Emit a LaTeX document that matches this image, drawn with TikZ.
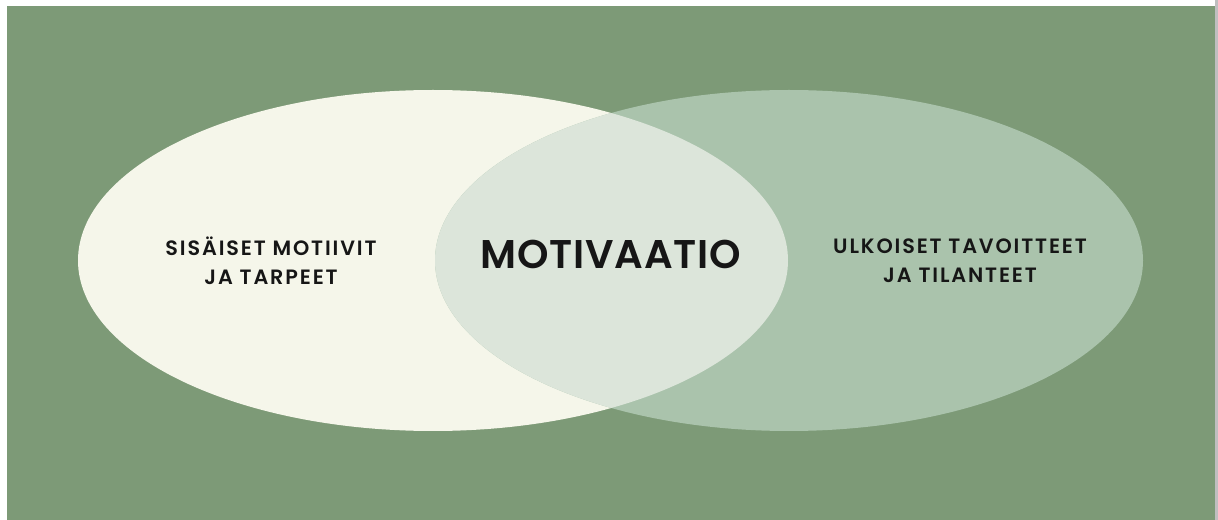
\documentclass[tikz,border=0pt]{standalone}
\usepackage{fontspec}
\setmainfont{Poppins}[BoldFont={Poppins SemiBold}]
\usepackage{tikz}

\definecolor{sage}{RGB}{125,154,119}
\definecolor{cream}{RGB}{245,246,234}
\definecolor{mist}{RGB}{170,195,172}
\definecolor{blend}{RGB}{220,229,218}
\definecolor{ink}{RGB}{22,22,22}

\begin{document}
\begin{tikzpicture}[
    x=0.02cm, y=-0.02cm,
    label/.style={text=ink, align=center,
        font=\fontsize{11.8}{16.4}\selectfont\bfseries\addfontfeatures{LetterSpace=9}},
    title/.style={text=ink,
        font=\fontsize{22.8}{26}\selectfont\bfseries\addfontfeatures{LetterSpace=2}}
]

\useasboundingbox (0,0) rectangle (1218,520);
\fill[white] (0,0) rectangle (1218,520);
\fill[sage] (7,6) rectangle (1215,520);
\fill[black!25] (1215,0) rectangle (1218,520);

% the two sets
\fill[cream] (433,260.5) ellipse [x radius=355, y radius=170.5];
\fill[mist] (789,260.5) ellipse [x radius=354, y radius=170.5];
\begin{scope}
    \clip (433,260.5) ellipse [x radius=355, y radius=170.5];
    \fill[blend] (789,260.5) ellipse [x radius=354, y radius=170.5];
\end{scope}

\node[label] (inner) at (271,261) {SISÄISET MOTIIVIT\\JA TARPEET};
\node[label] (outer) at (960,261) {ULKOISET TAVOITTEET\\JA TILANTEET};
\node[title] (core) at (611,254) {MOTIVAATIO};

\end{tikzpicture}
\end{document}
